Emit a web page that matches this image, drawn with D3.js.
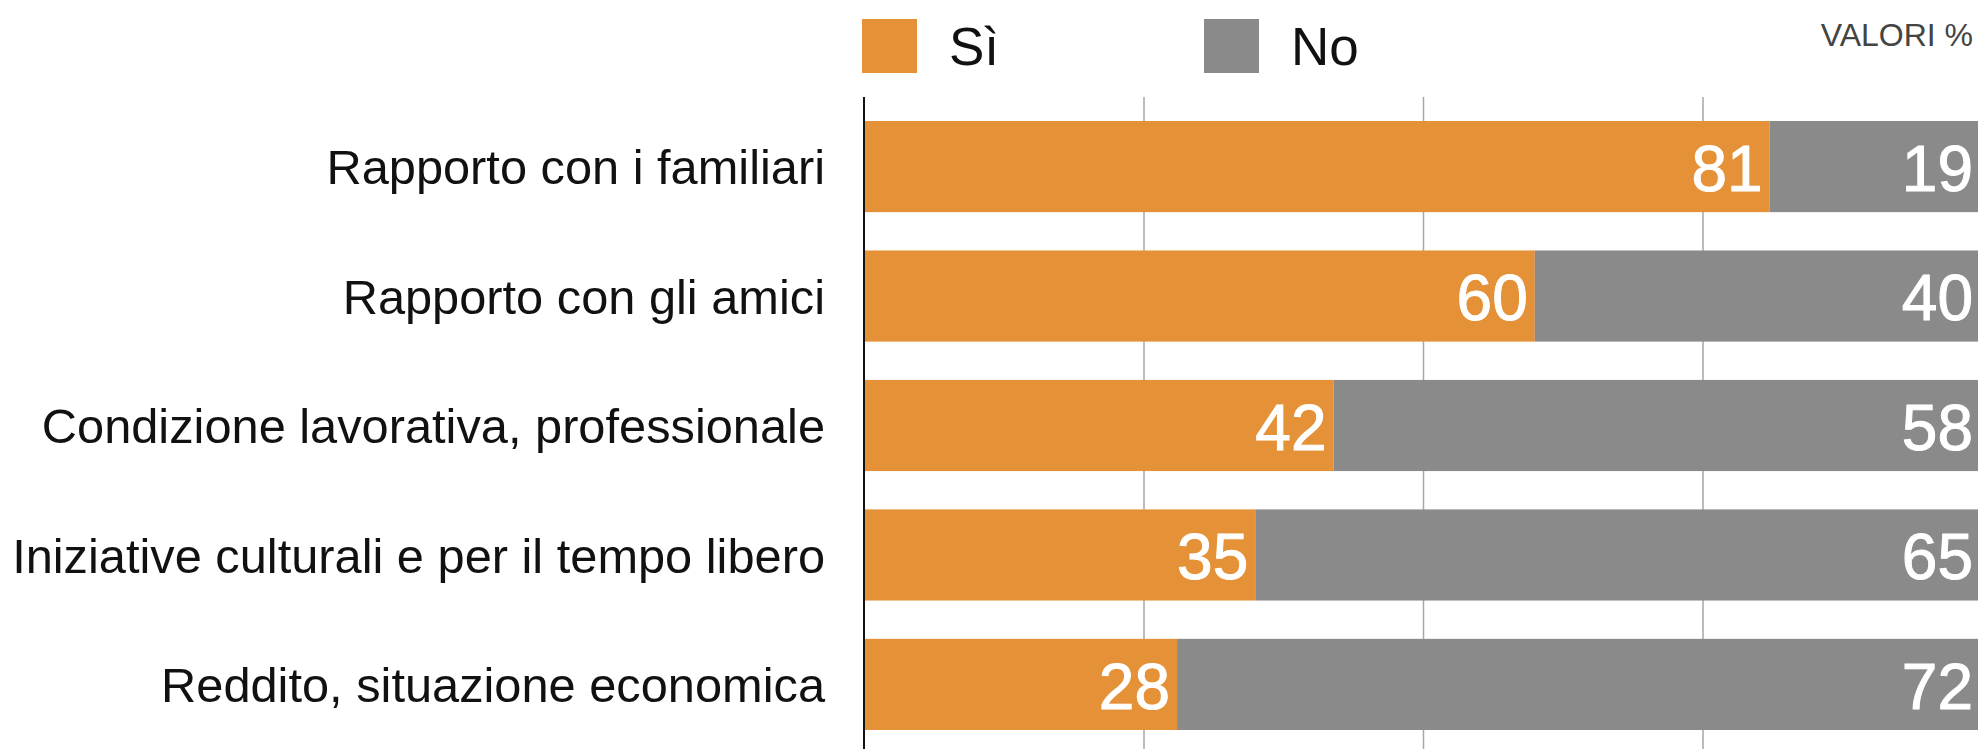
<!DOCTYPE html>
<meta charset="utf-8">
<style>

body {
  margin: 0;
  background: #fff;
}

svg text {
  font-family: "Liberation Sans", Arial, sans-serif;
}

.cat .tick text {
  font-size: 48.75px;
  fill: #111;
}

.grid line {
  stroke: #a6a6a6;
  stroke-width: 1.5;
}

.value {
  font-size: 64px;
  fill: #fff;
  stroke: #fff;
  stroke-width: 1;
}

</style>
<body>
<script src="https://d3js.org/d3.v7.min.js"></script>
<script>

// data
var categories = [
  "Rapporto con i familiari",
  "Rapporto con gli amici",
  "Condizione lavorativa, professionale",
  "Iniziative culturali e per il tempo libero",
  "Reddito, situazione economica"
];
var siValues = [81, 60, 42, 35, 28];
var noValues = [19, 40, 58, 65, 72];
var seriesNames = ["Sì", "No"];
var gridTicks = [25, 50, 75, 100];

var colors = ["#e59138", "#8a8a8a"];

var width = 1978;
var height = 749;

var svg = d3.select("body").append("svg")
            .attr("width", width)
            .attr("height", height);

// scales
var x = d3.scaleLinear()
          .domain([0, 100])
          .range([864, 1982]);

var y = d3.scaleBand()
          .domain(categories)
          .range([121, 730])
          .paddingInner(0.296)
          .paddingOuter(0);

var rows = categories.map(function(c, i) {
  return {cat: c, si: siValues[i], no: noValues[i]};
});

// vertical gridlines, behind the bars
svg.append("g")
   .attr("class", "grid")
   .attr("transform", "translate(0," + height + ")")
   .call(d3.axisBottom(x).tickValues(gridTicks).tickSize(-(height - 97)).tickFormat(""))
   .call(function(g) { g.select(".domain").remove(); });

// Sì bars
svg.selectAll(".bar-si")
   .data(rows)
   .enter().append("rect")
     .attr("class", "bar-si")
     .attr("x", x(0))
     .attr("y", function(d) { return y(d.cat); })
     .attr("width", function(d) { return x(d.si) - x(0); })
     .attr("height", y.bandwidth())
     .style("fill", colors[0]);

// No bars
svg.selectAll(".bar-no")
   .data(rows)
   .enter().append("rect")
     .attr("class", "bar-no")
     .attr("x", function(d) { return x(d.si); })
     .attr("y", function(d) { return y(d.cat); })
     .attr("width", function(d) { return x(d.si + d.no) - x(d.si); })
     .attr("height", y.bandwidth())
     .style("fill", colors[1]);

// value labels
svg.selectAll(".val-si")
   .data(rows)
   .enter().append("text")
     .attr("class", "value")
     .attr("x", function(d) { return x(d.si) - 7; })
     .attr("y", function(d) { return y(d.cat) + y.bandwidth() / 2; })
     .attr("dy", "0.38em")
     .style("text-anchor", "end")
     .text(function(d) { return d.si; });

svg.selectAll(".val-no")
   .data(rows)
   .enter().append("text")
     .attr("class", "value")
     .attr("x", function(d) { return x(d.si + d.no) - 9; })
     .attr("y", function(d) { return y(d.cat) + y.bandwidth() / 2; })
     .attr("dy", "0.38em")
     .style("text-anchor", "end")
     .text(function(d) { return d.no; });

// category axis
svg.append("g")
   .attr("class", "cat")
   .attr("transform", "translate(" + x(0) + ",0)")
   .call(d3.axisLeft(y).tickSize(0).tickPadding(39))
   .call(function(g) { g.select(".domain").remove(); })
   .selectAll("text")
     .attr("dy", "0.36em");

// zero line
svg.append("line")
   .attr("x1", x(0)).attr("x2", x(0))
   .attr("y1", 97).attr("y2", height)
   .style("stroke", "#111")
   .style("stroke-width", 2);

// legend
var legendX = [862, 1204];
var legend = svg.selectAll(".legend")
                .data(seriesNames)
                .enter().append("g")
                .attr("class", "legend")
                .attr("transform", function(d, i) {
                  return "translate(" + legendX[i] + ",19)";
                });
legend.append("rect")
      .attr("width", 55)
      .attr("height", 54)
      .style("fill", function(d, i) { return colors[i]; });
legend.append("text")
      .attr("x", 87)
      .attr("y", 46)
      .style("font-size", "53px")
      .style("fill", "#111")
      .text(function(d) { return d; });

svg.append("text")
   .attr("x", 1973)
   .attr("y", 46)
   .style("text-anchor", "end")
   .style("font-size", "32px")
   .style("fill", "#444")
   .text("VALORI %");

</script>
